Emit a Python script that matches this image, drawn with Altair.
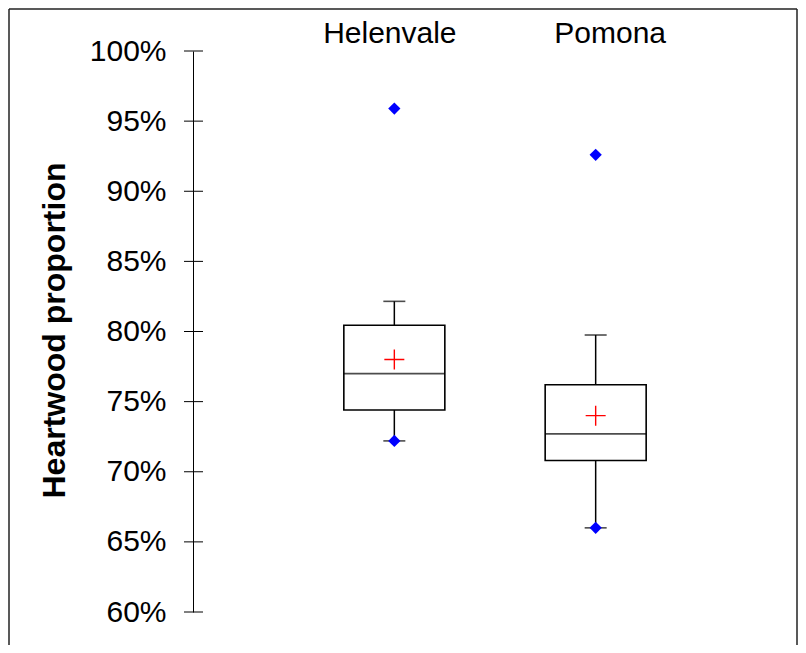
import altair as alt
import pandas as pd

# ---- data ----
sites = ["Helenvale", "Pomona"]
whisker_low = [0.722, 0.660]
q1 = [0.744, 0.708]
medians = [0.770, 0.727]
q3 = [0.8045, 0.762]
whisker_high = [0.8215, 0.7975]
means = [0.780, 0.740]
point_sites = ["Helenvale", "Helenvale", "Pomona", "Pomona"]
point_values = [0.959, 0.722, 0.926, 0.660]
tick_values = [0.60, 0.65, 0.70, 0.75, 0.80, 0.85, 0.90, 0.95, 1.00]

stats = pd.DataFrame({
    "site": sites, "low": whisker_low, "q1": q1, "median": medians,
    "q3": q3, "high": whisker_high, "mean": means,
})
points = pd.DataFrame({"site": point_sites, "value": point_values})
ticks = pd.DataFrame({"v": tick_values})
one = pd.DataFrame({"a": [0]})

FONT = "Liberation Sans"
W, H = 604, 561
PB = 33

yscale = alt.Scale(domain=[0.6, 1.0], nice=False, zero=False)
yaxis = alt.Axis(
    title="Heartwood proportion", values=tick_values, format=".0%",
    ticks=False, grid=False, domainColor="black", domainWidth=1,
    labelFont=FONT, labelFontSize=30, labelColor="black", labelPadding=27,
    titleFont=FONT, titleFontSize=32, titleFontWeight="bold", titleColor="black",
    titleAngle=270, titleAlign="center", titleBaseline="alphabetic",
    titleX=-129, titleY=279,
)
xenc = alt.X(
    "site:N",
    scale=alt.Scale(type="point", padding=1, domain=sites),
    axis=alt.Axis(
        orient="top", title=None, domain=False, ticks=False, tickSize=0, grid=False,
        labelAngle=0, labelFont=FONT, labelFontSize=30, labelColor="black",
        labelPadding=9, labelBaseline="alphabetic",
        labelOffset={"condition": {"test": "datum.value == 'Helenvale'", "value": -5},
                     "value": 14},
    ),
)

def Y(field):
    return alt.Y(field, scale=yscale, axis=yaxis)

border_left = alt.Chart(one).mark_rule(color="#222", strokeWidth=1.5).encode(
    x=alt.value(-184), y=alt.value(-42), y2=alt.value(H + PB))
border_top = alt.Chart(one).mark_rule(color="#222", strokeWidth=1.5).encode(
    x=alt.value(-184), x2=alt.value(W), y=alt.value(-42))
border_right = alt.Chart(one).mark_rule(color="#222", strokeWidth=1.5).encode(
    x=alt.value(W), y=alt.value(-42), y2=alt.value(H + PB))

axis_ticks = alt.Chart(ticks).mark_rule(color="black", strokeWidth=1).encode(
    y=Y("v:Q"), x=alt.value(-9), x2=alt.value(10))

whisk_lo = alt.Chart(stats).mark_rule(color="black", strokeWidth=1.5).encode(
    x=xenc, y=Y("low:Q"), y2="q1:Q")
whisk_hi = alt.Chart(stats).mark_rule(color="black", strokeWidth=1.5).encode(
    x=xenc, y=Y("q3:Q"), y2="high:Q")
box = alt.Chart(stats).mark_bar(size=101, fill="white", stroke="black",
                                strokeWidth=1.6).encode(
    x=xenc, y=Y("q1:Q"), y2="q3:Q")
med = alt.Chart(stats).mark_tick(size=101, thickness=1.8, color="black").encode(
    x=xenc, y=Y("median:Q"))
cap_lo = alt.Chart(stats).mark_tick(size=22, thickness=1.6, color="black").encode(
    x=xenc, y=Y("low:Q"))
cap_hi = alt.Chart(stats).mark_tick(size=22, thickness=1.6, color="black").encode(
    x=xenc, y=Y("high:Q"))
mean_pt = alt.Chart(stats).mark_point(
    shape="M-1,0L1,0M0,-1L0,1", size=400, filled=False, stroke="red",
    strokeWidth=1.4, opacity=1).encode(x=xenc, y=Y("mean:Q"))
extreme = alt.Chart(points).mark_point(
    shape="diamond", size=150, filled=True, color="#0000FF", opacity=1).encode(
    x=xenc, y=Y("value:Q"))

chart = alt.layer(
    border_left, border_top, border_right, axis_ticks,
    whisk_lo, whisk_hi, box, med, cap_lo, cap_hi, mean_pt, extreme,
).properties(
    width=W, height=H,
    background="white",
    autosize=alt.AutoSizeParams(type="none"),
    padding={"left": 185, "top": 43, "right": 1, "bottom": PB},
).configure_view(stroke="transparent", strokeWidth=0)

chart.save("out.html", embed_options={"renderer": "svg", "actions": False})
